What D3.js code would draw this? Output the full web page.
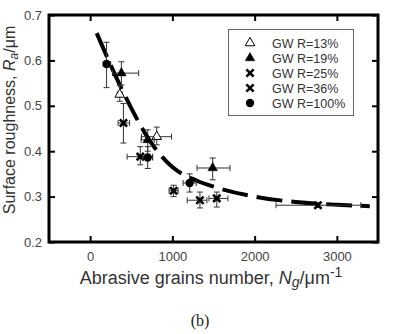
<!DOCTYPE html>
<html><head><meta charset="utf-8">
<script src="https://cdn.jsdelivr.net/npm/d3@7"></script>
<style>body{margin:0;background:#fff}svg{display:block}</style>
</head><body>
<svg id="c" width="400" height="334"></svg>
<script>
// ---- data ----
const seriesNames = ["GW R=13%", "GW R=19%", "GW R=25%", "GW R=36%", "GW R=100%"];
const seriesSymbols = ["triOpen", "triFill", "x", "x", "circle"];
// each point: [N, Ra, xLo, xHi, yLo, yHi]
const s13 = [[360, 0.525, 330, 390, 0.510, 0.545], [810, 0.432, 625, 990, 0.414, 0.453]];
const s19 = [[380, 0.572, 272, 590, 0.546, 0.597], [700, 0.425, 620, 780, 0.400, 0.447], [1490, 0.363, 1300, 1700, 0.337, 0.385]];
const s25 = [[405, 0.462, 340, 480, 0.418, 0.505], [610, 0.388, 450, 760, 0.370, 0.410], [1015, 0.313, 960, 1070, 0.300, 0.325], [1335, 0.292, 1180, 1420, 0.275, 0.310]];
const s36 = [[1540, 0.296, 1445, 1675, 0.277, 0.310], [2770, 0.281, 2260, 3290, 0.276, 0.287]];
const s100 = [[200, 0.592, 160, 250, 0.540, 0.640], [700, 0.386, 640, 760, 0.362, 0.410], [1210, 0.330, 1130, 1290, 0.310, 0.350]];
const seriesData = [s13, s19, s25, s36, s100];
const fitN = [80, 200, 350, 500, 700, 1000, 1300, 1500, 2000, 2500, 3000, 3400];
const fitR = [0.660, 0.610, 0.550, 0.495, 0.430, 0.365, 0.335, 0.322, 0.300, 0.288, 0.282, 0.279];
const xTicks = [0, 1000, 2000, 3000];
const yTicks = [0.2, 0.3, 0.4, 0.5, 0.6, 0.7];

// ---- layout ----
const svg = d3.select("#c");
const L = 49, T = 15, R = 378, B = 242;
const x = d3.scaleLinear().domain([-500, 3500]).range([L, R]);
const y = d3.scaleLinear().domain([0.2, 0.7]).range([B, T]);
const tickCol = "#444";

// fit curve
svg.append("path").datum(fitN)
  .attr("d", d3.line().x((d, i) => x(fitN[i])).y((d, i) => y(fitR[i])).curve(d3.curveMonotoneX))
  .attr("fill", "none").attr("stroke", "#000").attr("stroke-width", 4)
  .attr("stroke-dasharray", "26,9");

// error bars and markers
const errCol = "#333";
function symbolPath(kind, g, cx, cy) {
  if (kind === "triOpen" || kind === "triFill") {
    g.append("path").attr("d", d3.symbol(d3.symbolTriangle, 40)())
      .attr("transform", `translate(${cx},${cy})`)
      .attr("fill", kind === "triFill" ? "#000" : "#fff")
      .attr("stroke", "#000").attr("stroke-width", kind === "triFill" ? 0.5 : 1);
  } else if (kind === "circle") {
    g.append("circle").attr("cx", cx).attr("cy", cy).attr("r", 4.2).attr("fill", "#000");
  } else {
    g.append("path").attr("d", d3.symbol(d3.symbolX, 36)())
      .attr("transform", `translate(${cx},${cy})`)
      .attr("fill", "none").attr("stroke", "#000").attr("stroke-width", 2.6);
  }
}
seriesData.forEach((pts, si) => {
  const g = svg.append("g");
  pts.forEach(p => {
    const cx = x(p[0]), cy = y(p[1]);
    const xl = x(p[2]), xh = x(p[3]), yl = y(p[4]), yh = y(p[5]);
    const e = g.append("g").attr("stroke", errCol).attr("stroke-width", 1);
    e.append("line").attr("x1", xl).attr("x2", xh).attr("y1", cy).attr("y2", cy);
    e.append("line").attr("x1", xl).attr("x2", xl).attr("y1", cy - 3).attr("y2", cy + 3);
    e.append("line").attr("x1", xh).attr("x2", xh).attr("y1", cy - 3).attr("y2", cy + 3);
    e.append("line").attr("x1", cx).attr("x2", cx).attr("y1", yl).attr("y2", yh);
    e.append("line").attr("x1", cx - 3).attr("x2", cx + 3).attr("y1", yl).attr("y2", yl);
    e.append("line").attr("x1", cx - 3).attr("x2", cx + 3).attr("y1", yh).attr("y2", yh);
    symbolPath(seriesSymbols[si], g, cx, cy);
  });
});

// axes (ticks inward on all sides)
const font = "'Liberation Sans', Arial, sans-serif";
function styleAxis(g) {
  g.select(".domain").remove();
  g.selectAll(".tick line").attr("stroke", "#000").attr("stroke-width", 2);
  g.selectAll(".tick text").attr("fill", tickCol).attr("font-family", font).attr("font-size", 13);
}
svg.append("g").attr("transform", `translate(0,${B})`)
  .call(d3.axisBottom(x).tickValues(xTicks).tickSize(-6).tickPadding(10).tickFormat(d3.format("d")))
  .call(styleAxis);
svg.append("g").attr("transform", `translate(0,${T})`)
  .call(d3.axisTop(x).tickValues(xTicks).tickSize(-6).tickFormat(""))
  .call(styleAxis);
svg.append("g").attr("transform", `translate(${L},0)`)
  .call(d3.axisLeft(y).tickValues(yTicks).tickSize(-6).tickPadding(7).tickFormat(d3.format(".1f")))
  .call(styleAxis);
svg.append("g").attr("transform", `translate(${R},0)`)
  .call(d3.axisRight(y).tickValues(yTicks).tickSize(-6).tickFormat(""))
  .call(styleAxis);
svg.append("rect").attr("x", L).attr("y", T).attr("width", R - L).attr("height", B - T)
  .attr("fill", "none").attr("stroke", "#000").attr("stroke-width", 3);

// legend
const lg = svg.append("g");
lg.append("rect").attr("x", 228.5).attr("y", 29.5).attr("width", 125).attr("height", 86)
  .attr("fill", "#fff").attr("stroke", "#666").attr("stroke-width", 1);
seriesNames.forEach((n, i) => {
  const yy = 43 + i * 15;
  symbolPath(seriesSymbols[i], lg, 250, yy);
  lg.append("text").attr("x", 272).attr("y", yy + 4.5).text(n)
    .attr("font-family", font).attr("font-size", 12.5).attr("fill", "#333");
});

// axis titles
const yl = svg.append("text").attr("transform", "translate(15,120) rotate(-90)")
  .attr("text-anchor", "middle").attr("font-family", font).attr("font-size", 16).attr("fill", "#333");
yl.append("tspan").text("Surface roughness, ");
yl.append("tspan").attr("font-style", "italic").text("R");
yl.append("tspan").attr("font-style", "italic").attr("font-size", 12).attr("dy", 3).text("a");
yl.append("tspan").attr("dy", -3).text("/μm");

const xl = svg.append("text").attr("x", 211).attr("y", 284)
  .attr("text-anchor", "middle").attr("font-family", font).attr("font-size", 18).attr("fill", "#333");
xl.append("tspan").text("Abrasive grains number, ");
xl.append("tspan").attr("font-style", "italic").text("N");
xl.append("tspan").attr("font-style", "italic").attr("font-size", 14).attr("dy", 3).text("g");
xl.append("tspan").attr("dy", -3).text("/μm");
xl.append("tspan").attr("font-size", 14).attr("dy", -7).text("-1");

svg.append("text").attr("x", 200).attr("y", 326).attr("text-anchor", "middle")
  .attr("font-family", "'Liberation Serif', 'Times New Roman', serif").attr("font-size", 16)
  .attr("fill", "#222").text("(b)");
</script>
</body></html>
